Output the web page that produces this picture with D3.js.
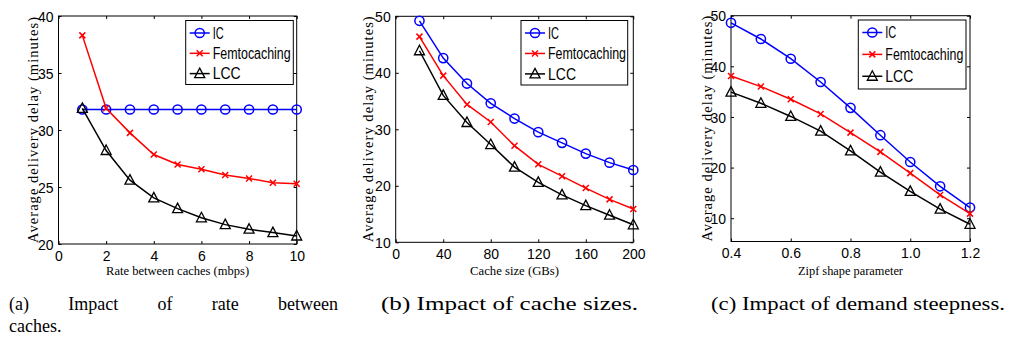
<!DOCTYPE html>
<html lang="en">
<head>
<meta charset="utf-8">
<title>Delivery delay</title>
<script src="https://d3js.org/d3.v7.min.js"></script>
<style>
  body { margin: 0; background: #fff; }
  svg { display: block; }
  .tick text { font-family: "Liberation Sans", Arial, sans-serif; font-size: 14px; fill: #000; }
</style>
</head>
<body>
<svg id="chart" width="1011" height="354"></svg>
<script>
// (a) rate between caches
var rateX     = [1, 2, 3, 4, 5, 6, 7, 8, 9, 10];
var rateIC    = [31.8, 31.8, 31.8, 31.8, 31.8, 31.8, 31.8, 31.8, 31.8, 31.8];
var rateFemto = [38.3, 31.9, 29.75, 27.85, 26.97, 26.55, 26.06, 25.75, 25.38, 25.28];
var rateLCC   = [31.9, 28.2, 25.6, 24.05, 23.1, 22.3, 21.7, 21.3, 21.0, 20.7];
var rateXTicks = [0, 2, 4, 6, 8, 10];
var rateYTicks = [20, 25, 30, 35, 40];

// (b) cache size
var cacheX     = [20, 40, 60, 80, 100, 120, 140, 160, 180, 200];
var cacheIC    = [49.2, 42.6, 38.1, 34.6, 31.9, 29.5, 27.6, 25.7, 24.1, 22.8];
var cacheFemto = [46.4, 39.5, 34.4, 31.3, 27.1, 23.8, 21.7, 19.6, 17.6, 15.9];
var cacheLCC   = [43.9, 36.0, 31.2, 27.3, 23.3, 20.6, 18.4, 16.5, 14.8, 13.1];
var cacheXTicks = [0, 40, 80, 120, 160, 200];
var cacheYTicks = [10, 20, 30, 40, 50];

// (c) zipf shape parameter
var zipfX     = [0.4, 0.5, 0.6, 0.7, 0.8, 0.9, 1.0, 1.1, 1.2];
var zipfIC    = [48.6, 45.4, 41.5, 36.9, 31.8, 26.4, 21.1, 16.3, 12.1];
var zipfFemto = [38.1, 36.0, 33.5, 30.6, 26.9, 23.1, 18.9, 14.6, 10.9];
var zipfLCC   = [34.9, 32.7, 30.1, 27.2, 23.3, 19.1, 15.3, 11.8, 8.8];
var zipfXTicks = [0.4, 0.6, 0.8, 1.0, 1.2];
var zipfYTicks = [10, 20, 30, 40, 50];

var seriesNames = ["IC", "Femtocaching", "LCC"];
var seriesColors = ["#0000ff", "#ff0000", "#000000"];
var captions = [
  ["(a)", "Impact", "of", "rate", "between"],
  ["(b) Impact of cache sizes."],
  ["(c) Impact of demand steepness."]
];

var panels = [
  { x: rateX, ys: [rateIC, rateFemto, rateLCC], xd: [0, 10], yd: [20, 40],
    xt: rateXTicks, yt: rateYTicks, xfmt: d3.format("d"),
    box: [58.5, 16, 296.7, 244], xlabel: "Rate between caches (mbps)", xlw: 143,
    ylx: 33, legend: [185.7, 20.5, 107.6, 64] },
  { x: cacheX, ys: [cacheIC, cacheFemto, cacheLCC], xd: [0, 200], yd: [10, 50],
    xt: cacheXTicks, yt: cacheYTicks, xfmt: d3.format("d"),
    box: [395.7, 16.3, 633.3, 242.3], xlabel: "Cache size (GBs)", xlw: 89,
    ylx: 368, legend: [521, 20.5, 106.7, 64.5] },
  { x: zipfX, ys: [zipfIC, zipfFemto, zipfLCC], xd: [0.4, 1.2], yd: [5.4, 50],
    xt: zipfXTicks, yt: zipfYTicks, xfmt: d3.format(".1f"),
    box: [731, 15.7, 970, 241.5], xlabel: "Zipf shape parameter", xlw: 105,
    ylx: 707, legend: [858.3, 20, 107.7, 69] }
];

var svg = d3.select("#chart");

function marker(g, kind, color) {
  if (kind === 0) {
    g.append("circle").attr("r", 4.6).attr("fill", "none")
      .attr("stroke", color).attr("stroke-width", 1.5);
  } else if (kind === 1) {
    g.append("path").attr("d", "M-3,-3L3,3M-3,3L3,-3")
      .attr("stroke", color).attr("stroke-width", 1.5);
  } else {
    g.append("path").attr("d", "M0,-5.5L5,4L-5,4Z").attr("fill", "none")
      .attr("stroke", color).attr("stroke-width", 1.3);
  }
}

panels.forEach(function(p) {
  var b = p.box;
  var x = d3.scaleLinear().domain(p.xd).range([b[0], b[2]]);
  var y = d3.scaleLinear().domain(p.yd).range([b[3], b[1]]);
  var g = svg.append("g");

  // axes with inward ticks, mirrored on top and right
  g.append("g").attr("transform", "translate(0," + b[3] + ")")
    .call(d3.axisBottom(x).tickValues(p.xt).tickFormat(p.xfmt).tickSizeInner(-3).tickSizeOuter(0).tickPadding(7))
    .call(function(a) { a.select(".domain").remove(); a.selectAll("line").attr("stroke", "#000"); });
  g.append("g").attr("transform", "translate(" + b[0] + ",0)")
    .call(d3.axisLeft(y).tickValues(p.yt).tickFormat(d3.format("d")).tickSizeInner(-3).tickSizeOuter(0).tickPadding(5))
    .call(function(a) { a.select(".domain").remove(); a.selectAll("line").attr("stroke", "#000");
      a.selectAll("text").attr("dy", "0.36em"); });
  g.append("g").attr("transform", "translate(0," + b[1] + ")")
    .call(d3.axisTop(x).tickValues(p.xt).tickFormat("").tickSizeInner(-3).tickSizeOuter(0))
    .call(function(a) { a.select(".domain").remove(); a.selectAll("line").attr("stroke", "#000"); });
  g.append("g").attr("transform", "translate(" + b[2] + ",0)")
    .call(d3.axisRight(y).tickValues(p.yt).tickFormat("").tickSizeInner(-3).tickSizeOuter(0))
    .call(function(a) { a.select(".domain").remove(); a.selectAll("line").attr("stroke", "#000"); });

  g.append("rect").attr("x", b[0]).attr("y", b[1])
    .attr("width", b[2] - b[0]).attr("height", b[3] - b[1])
    .attr("fill", "none").attr("stroke", "#000").attr("stroke-width", 1);

  // series
  p.ys.forEach(function(vals, si) {
    var pts = p.x.map(function(v, i) { return [v, vals[i]]; });
    var line = d3.line().x(function(d) { return x(d[0]); }).y(function(d) { return y(d[1]); });
    g.append("path").datum(pts).attr("d", line).attr("fill", "none")
      .attr("stroke", seriesColors[si]).attr("stroke-width", 1.5);
    pts.forEach(function(d) {
      var m = g.append("g").attr("transform", "translate(" + x(d[0]) + "," + y(d[1]) + ")");
      marker(m, si, seriesColors[si]);
    });
  });

  // legend
  var L = p.legend;
  var lg = g.append("g");
  lg.append("rect").attr("x", L[0]).attr("y", L[1]).attr("width", L[2]).attr("height", L[3])
    .attr("fill", "#fff").attr("stroke", "#000").attr("stroke-width", 1);
  var lens = [11, 78, 28];
  seriesNames.forEach(function(name, si) {
    var cy = L[1] + 12.5 + si * 20.3 * (L[3] / 64);
    lg.append("line").attr("x1", L[0] + 4).attr("x2", L[0] + 24).attr("y1", cy).attr("y2", cy)
      .attr("stroke", seriesColors[si]).attr("stroke-width", 1.5);
    var m = lg.append("g").attr("transform", "translate(" + (L[0] + 14) + "," + cy + ")");
    marker(m, si, seriesColors[si]);
    lg.append("text").attr("x", L[0] + 27).attr("y", cy + 5.8)
      .attr("font-family", "Liberation Sans, Arial, sans-serif").attr("font-size", 16)
      .attr("textLength", lens[si]).attr("lengthAdjust", "spacingAndGlyphs")
      .text(name);
  });

  // labels
  var cx = (b[0] + b[2]) / 2;
  g.append("text").attr("x", cx).attr("y", 275).attr("text-anchor", "middle")
    .attr("font-family", "Liberation Serif, Times New Roman, serif").attr("font-size", 13)
    .attr("textLength", p.xlw).attr("lengthAdjust", "spacingAndGlyphs")
    .text(p.xlabel);
  var ycen = (b[1] + b[3]) / 2;
  g.append("text").attr("transform", "translate(" + (p.ylx + 5) + "," + ycen + ") rotate(-90)")
    .attr("text-anchor", "middle")
    .attr("font-family", "Liberation Serif, Times New Roman, serif").attr("font-size", 14.5)
    .attr("textLength", 226).attr("lengthAdjust", "spacing")
    .text("Average delivery delay (minutes)");
});

// captions
var capFont = "Liberation Serif, Times New Roman, serif";
var capA = svg.append("g");
var words = captions[0];
var widths = words.map(function(w) {
  var t = capA.append("text").attr("font-family", capFont).attr("font-size", 18).text(w);
  var wd = t.node().getComputedTextLength(); t.remove(); return wd;
});
var total = d3.sum(widths), gap = (338 - 9 - total) / (words.length - 1), cxA = 9;
words.forEach(function(w, i) {
  capA.append("text").attr("x", cxA).attr("y", 310).attr("font-family", capFont)
    .attr("font-size", 18).text(w);
  cxA += widths[i] + gap;
});
capA.append("text").attr("x", 9).attr("y", 332).attr("font-family", capFont)
  .attr("font-size", 18).text("caches.");
svg.append("text").attr("x", 381).attr("y", 310).attr("font-family", capFont).attr("font-size", 18)
  .attr("textLength", 257).attr("lengthAdjust", "spacingAndGlyphs").text(captions[1][0]);
svg.append("text").attr("x", 711).attr("y", 310).attr("font-family", capFont).attr("font-size", 18)
  .attr("textLength", 294).attr("lengthAdjust", "spacingAndGlyphs").text(captions[2][0]);
</script>
</body>
</html>
